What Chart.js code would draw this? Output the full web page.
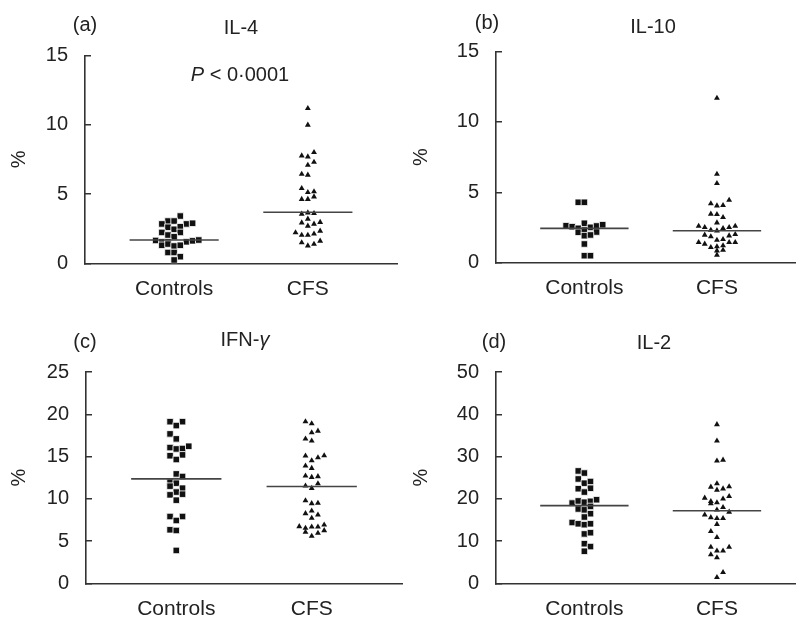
<!DOCTYPE html>
<html>
<head>
<meta charset="utf-8">
<script src="https://cdn.jsdelivr.net/npm/chart.js@4.4.1/dist/chart.umd.min.js"></script>
<style>
  body { margin: 0; background: #fff; width: 801px; height: 617px; overflow: hidden; }
  canvas { position: absolute; left: 0; top: 0; }
</style>
</head>
<body>
<canvas id="a" width="801" height="660"></canvas>
<canvas id="b" width="801" height="660"></canvas>
<canvas id="c" width="801" height="660"></canvas>
<canvas id="d" width="801" height="660"></canvas>
<script>
// groups on the x axis
const groups = ['Controls', 'CFS'];
const groupX = [1, 2.5];

// values (%), with the beeswarm column of each point
const il4Controls = [3.41, 3.05, 3.05, 2.84, 2.84, 2.89, 2.6, 2.45, 2.64, 2.23, 2.23, 2.04, 1.92, 1.65, 1.55, 1.55, 1.55, 1.62, 1.68, 1.3, 1.39, 1.25, 1.3, 0.78, 0.78, 0.48, 0.24];
const il4ControlsCol = [1, -1, 0, -2, 2, 3, -1, 0, 1, -2, 1, -1, 0, -3, -2, -1, 2, 3, 4, -2, -1, 0, 1, -1, 0, 1, 0];
const il4Cfs = [11.18, 9.98, 7.76, 7.69, 8.0, 7.09, 7.3, 6.44, 6.37, 5.41, 5.12, 5.17, 4.8, 4.62, 4.62, 3.56, 3.65, 3.6, 3.2, 2.93, 2.84, 2.96, 2.69, 2.21, 2.04, 2.04, 2.12, 2.33, 1.49, 1.27, 1.39, 1.61];
const il4CfsCol = [0, 0, -1, 0, 1, 0, 1, -1, 0, -1, 0, 1, 1, -1, 0, -1, 0, 1, 0, -1, 1, 2, 0, -2, -1, 0, 1, 2, -1, 0, 1, 2];
const il4Median = [1.68, 3.68];

const il10Controls = [4.29, 4.29, 2.63, 2.56, 2.8, 2.44, 2.51, 2.61, 2.7, 2.16, 2.32, 2.18, 1.92, 1.97, 1.33, 0.5, 0.5];
const il10ControlsCol = [-1, 0, -3, -2, 0, -1, 1, 2, 3, -1, 0, 2, 0, 1, 0, 0, 1];
const il10Cfs = [11.7, 6.3, 5.64, 4.45, 4.2, 4.05, 4.08, 3.46, 3.44, 3.22, 2.84, 2.6, 2.51, 2.32, 2.27, 2.44, 2.51, 2.6, 1.97, 1.85, 1.61, 1.66, 1.92, 2.01, 1.45, 1.33, 1.09, 1.14, 1.21, 1.45, 1.45, 0.85, 0.9, 0.55];
const il10CfsCol = [0, 0, 0, 2, -1, 0, 1, -1, 0, 1, 0, -3, -2, -1, 0, 1, 2, 3, -2, -1, 0, 1, 2, 3, -3, -2, -1, 0, 1, 2, 3, 0, 1, 0];
const il10Median = [2.44, 2.27];

const ifnControls = [19.13, 19.13, 18.66, 17.68, 17.09, 16.06, 15.9, 15.95, 16.22, 15.1, 15.2, 14.65, 12.95, 12.64, 11.97, 11.85, 11.5, 11.26, 10.8, 10.55, 10.47, 9.84, 7.91, 7.91, 7.44, 6.34, 6.26, 3.9];
const ifnControlsCol = [-1, 1, 0, -1, 0, -1, 0, 1, 2, -1, 1, 0, 0, 1, -1, 0, -1, 1, 0, 1, -1, 0, -1, 1, 0, -1, 0, 0];
const ifnCfs = [19.13, 18.9, 17.83, 18.03, 17.09, 16.85, 15.08, 14.53, 14.88, 15.12, 13.9, 13.62, 12.72, 12.56, 12.64, 11.54, 11.26, 11.8, 9.8, 9.45, 9.49, 8.27, 8.58, 8.11, 7.72, 6.73, 6.54, 6.69, 6.69, 6.93, 6.06, 5.59, 5.94, 6.26];
const ifnCfsCol = [-1, 0, 0, 1, -1, 0, -1, 0, 1, 2, -1, 0, -1, 0, 1, -1, 0, 1, -1, 0, 1, -1, 0, 1, 0, -2, -1, 0, 1, 2, -1, 0, 1, 2];
const ifnMedian = [12.36, 11.46];

const il2Controls = [26.6, 26.1, 24.7, 23.7, 24.1, 22.5, 22.4, 21.6, 19.0, 19.5, 19.2, 19.4, 19.8, 17.6, 17.4, 18.2, 16.5, 15.7, 14.4, 14.1, 13.9, 14.1, 11.7, 12.0, 9.4, 8.7, 7.6];
const il2ControlsCol = [-1, 0, -1, 0, 1, 1, -1, 0, -2, -1, 0, 1, 2, -1, 0, 1, 1, 0, -2, -1, 0, 1, 0, 1, 0, 1, 0];
const il2Cfs = [37.6, 33.7, 29.0, 29.2, 22.8, 23.6, 22.4, 22.9, 22.1, 20.2, 19.4, 19.1, 20.0, 20.6, 18.9, 17.4, 18.0, 16.9, 16.2, 15.6, 15.4, 15.4, 14.0, 12.3, 10.9, 8.6, 7.7, 7.7, 8.6, 6.8, 6.1, 2.6, 1.44];
const il2CfsCol = [0, 0, 0, 1, -1, 0, 1, 2, 0, -2, -1, 0, 1, 2, -1, 0, 1, 2, -2, -1, 0, 1, 0, -1, 0, -1, 0, 1, 2, -1, 0, 1, 0];
const il2Median = [18.4, 17.2];

const SLOT = 0.069;      // width of one beeswarm column in x units
const FONT = '"Liberation Sans", Arial, Helvetica, sans-serif';
const INK = '#222';
const CANVAS_W = 801, CANVAS_H = 660;

const panels = [
  { id: 'a', tag: '(a)', title: ['IL-4', ''], ctrl: il4Controls, ctrlCol: il4ControlsCol, cfs: il4Cfs, cfsCol: il4CfsCol, median: il4Median,
    yMax: 15, step: 5, xMax: 3.5, area: { left: 85, top: 55.4, right: 397, bottom: 263.3 },
    tagPos: [85, 25], titlePos: [241, 28], pctX: 19, pval: [240, 75] },
  { id: 'b', tag: '(b)', title: ['IL-10', ''], ctrl: il10Controls, ctrlCol: il10ControlsCol, cfs: il10Cfs, cfsCol: il10CfsCol, median: il10Median,
    yMax: 15, step: 5, xMax: 3.39, area: { left: 496, top: 51.6, right: 801, bottom: 262.7 },
    tagPos: [487, 23], titlePos: [653, 27], pctX: 421 },
  { id: 'c', tag: '(c)', title: ['IFN-', 'γ'], ctrl: ifnControls, ctrlCol: ifnControlsCol, cfs: ifnCfs, cfsCol: ifnCfsCol, median: ifnMedian,
    yMax: 25, step: 5, xMax: 3.5, area: { left: 86, top: 372, right: 402, bottom: 583.4 },
    tagPos: [85, 342], titlePos: [245, 340], pctX: 19 },
  { id: 'd', tag: '(d)', title: ['IL-2', ''], ctrl: il2Controls, ctrlCol: il2ControlsCol, cfs: il2Cfs, cfsCol: il2CfsCol, median: il2Median,
    yMax: 50, step: 10, xMax: 3.39, area: { left: 496, top: 372, right: 801, bottom: 583.4 },
    tagPos: [494, 342], titlePos: [654, 343], pctX: 421 }
];

// draws text made of a normal part and an italic part, centred on x
function mixedText(ctx, parts, x, y) {
  const fonts = parts.map(p => (p.italic ? 'italic ' : '') + '20px ' + FONT);
  let w = 0;
  parts.forEach((p, i) => { ctx.font = fonts[i]; w += ctx.measureText(p.text).width; });
  let cx = x - w / 2;
  ctx.textAlign = 'left';
  ctx.textBaseline = 'middle';
  ctx.fillStyle = INK;
  parts.forEach((p, i) => {
    ctx.font = fonts[i];
    ctx.fillText(p.text, cx, y);
    cx += ctx.measureText(p.text).width;
  });
}

const panelText = {
  id: 'panelText',
  afterDraw(chart, args, opts) {
    const p = opts.panel;
    const ctx = chart.ctx;
    ctx.save();
    mixedText(ctx, [{ text: p.tag }], p.tagPos[0], p.tagPos[1]);
    mixedText(ctx, [{ text: p.title[0] }, { text: p.title[1], italic: true }], p.titlePos[0], p.titlePos[1]);
    if (p.pval) {
      mixedText(ctx, [{ text: 'P', italic: true }, { text: ' < 0·0001' }], p.pval[0], p.pval[1]);
    }
    ctx.restore();
  }
};

panels.forEach(p => {
  const yW = p.area.left - p.pctX + 12;
  const xH = 50;
  const toPoints = (vals, cols, gx) => vals.map((v, i) => ({ x: gx + cols[i] * SLOT, y: v }));
  const medianLine = (gx, m) => [{ x: gx - 0.5, y: m }, { x: gx + 0.5, y: m }];

  new Chart(document.getElementById(p.id), {
    type: 'scatter',
    data: {
      datasets: [
        { type: 'line', data: medianLine(groupX[0], p.median[0]), borderColor: '#444', borderWidth: 1.6, pointRadius: 0 },
        { type: 'line', data: medianLine(groupX[1], p.median[1]), borderColor: '#444', borderWidth: 1.6, pointRadius: 0 },
        { data: toPoints(p.ctrl, p.ctrlCol, groupX[0]), pointStyle: 'rect', pointRadius: 4.6,
          backgroundColor: '#111', borderColor: '#fff', borderWidth: 0.8 },
        { data: toPoints(p.cfs, p.cfsCol, groupX[1]), pointStyle: 'triangle', pointRadius: 3.4,
          backgroundColor: '#111', borderColor: '#111', borderWidth: 0 }
      ]
    },
    options: {
      responsive: false,
      animation: false,
      events: [],
      layout: {
        padding: {
          left: p.area.left - yW,
          top: p.area.top,
          right: CANVAS_W - p.area.right,
          bottom: CANVAS_H - p.area.bottom - xH
        }
      },
      plugins: {
        legend: { display: false },
        tooltip: { enabled: false },
        panelText: { panel: p }
      },
      scales: {
        x: {
          type: 'linear',
          min: 0,
          max: p.xMax,
          afterBuildTicks: s => { s.ticks = groupX.map(v => ({ value: v })); },
          afterFit: s => { s.height = xH; },
          ticks: {
            callback: (v, i) => groups[i],
            font: { family: FONT, size: 21 },
            color: INK,
            padding: 13,
            maxRotation: 0
          },
          grid: { display: false, drawTicks: false },
          border: { display: true, color: '#333', width: 1.6 }
        },
        y: {
          min: 0,
          max: p.yMax,
          afterFit: s => { s.width = yW; },
          ticks: {
            stepSize: p.step,
            font: { family: FONT, size: 20 },
            color: INK,
            padding: 23
          },
          grid: { drawOnChartArea: false, drawTicks: true, tickLength: -6, color: '#333', lineWidth: 1.5 },
          border: { display: true, color: '#333', width: 1.6 },
          title: {
            display: true,
            text: '%',
            font: { family: FONT, size: 20 },
            color: INK,
            padding: 0
          }
        }
      }
    },
    plugins: [panelText]
  });
});
</script>
</body>
</html>
